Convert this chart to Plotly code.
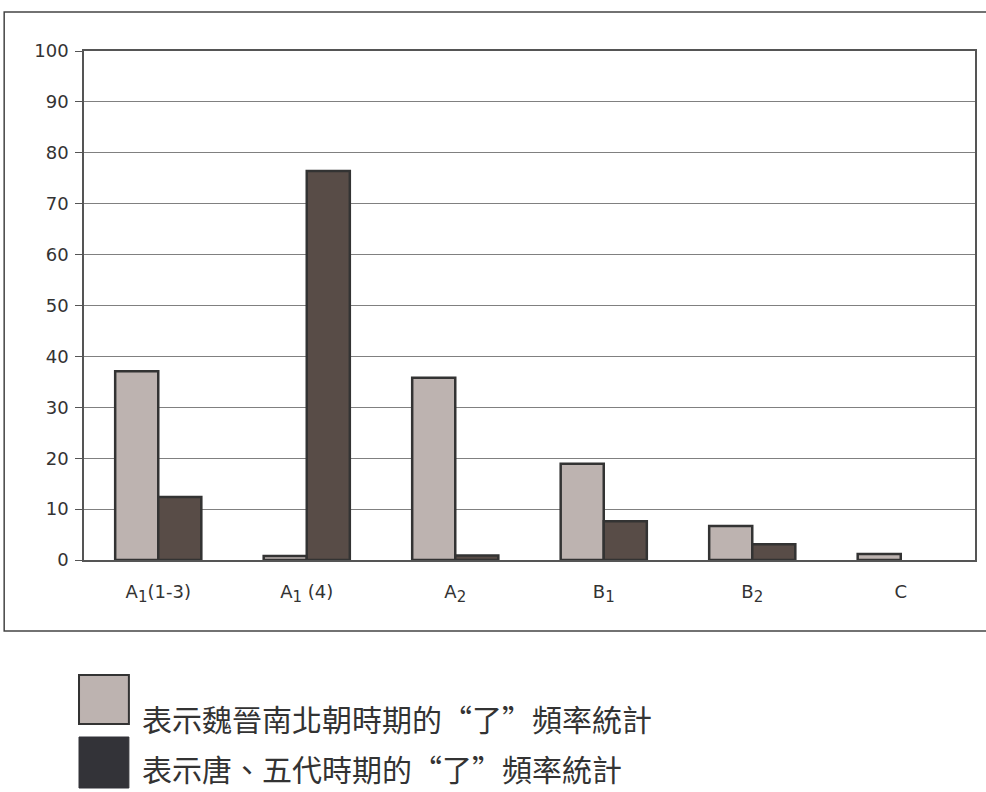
import plotly.graph_objects as go

# Categories and frequency values (percent) for each period
categories = ["A1(1-3)", "A1 (4)", "A2", "B1", "B2", "C"]
SUB = "<sub><span style='font-size:15px'>{}</span></sub>"
tick_labels = ["A" + SUB.format(1) + "(1-3)", "A" + SUB.format(1) + " (4)",
               "A" + SUB.format(2), "B" + SUB.format(1), "B" + SUB.format(2), "C"]
wei_jin_values = [37.1, 0.8, 35.8, 18.9, 6.7, 1.2]
tang_wudai_values = [12.4, 76.4, 0.9, 7.6, 3.1, 0]
y_ticks = list(range(0, 101, 10))

legend_labels = ["表示魏晉南北朝時期的“了”頻率統計", "表示唐、五代時期的“了”頻率統計"]

LIGHT = "#BDB3B0"
DARK = "#584C47"
OUTLINE = "#333333"

W, H = 986, 792
L, R, T, B = 84, 9, 51, 232
PW, PH = W - L - R, H - T - B


def px_x(x):
    return (x - L) / PW


def px_y(y):
    return (H - B - y) / PH


def outline_widths(values):
    # zero-height bars get no outline so they stay invisible
    return [2.5 if v else 0 for v in values]


fig = go.Figure()
fig.add_bar(x=categories, y=wei_jin_values, name=legend_labels[0],
            marker=dict(color=LIGHT,
                        line=dict(color=OUTLINE, width=outline_widths(wei_jin_values))))
fig.add_bar(x=categories, y=tang_wudai_values, name=legend_labels[1],
            marker=dict(color=DARK,
                        line=dict(color=OUTLINE, width=outline_widths(tang_wudai_values))))

shapes = [
    # outer chart frame
    dict(type="rect", xref="paper", yref="paper",
         x0=px_x(4), x1=px_x(992), y0=px_y(631), y1=px_y(12),
         line=dict(color="#444444", width=1.5), layer="below"),
    # legend swatches
    dict(type="rect", xref="paper", yref="paper",
         x0=px_x(79), x1=px_x(129), y0=px_y(724), y1=px_y(675),
         fillcolor=LIGHT, line=dict(color=OUTLINE, width=2)),
    dict(type="rect", xref="paper", yref="paper",
         x0=px_x(79), x1=px_x(129), y0=px_y(788), y1=px_y(737),
         fillcolor="#333338", line=dict(color="#333338", width=1)),
]

annotations = [
    dict(xref="paper", yref="paper", x=px_x(140), y=px_y(y), xanchor="left",
         yanchor="middle", text=t, showarrow=False,
         font=dict(family="Noto Sans CJK TC", size=30, color="#333333"))
    for t, y in zip(legend_labels, [718, 768])
]

fig.update_layout(
    width=W, height=H,
    margin=dict(l=L, r=R, t=T, b=B),
    paper_bgcolor="white", plot_bgcolor="white",
    barmode="group", bargap=0.42, bargroupgap=0,
    showlegend=False,
    shapes=shapes, annotations=annotations,
    font=dict(family="DejaVu Sans", size=18, color="#333333"),
)
fig.update_xaxes(
    type="category", tickvals=categories, ticktext=tick_labels,
    showline=True, linecolor="#555555", linewidth=1.5, mirror=True,
    showgrid=False, ticks="", ticklabelstandoff=15,
    tickfont=dict(family="DejaVu Sans", size=18, color="#333333"),
)
fig.update_yaxes(
    range=[0, 100], tickvals=y_ticks,
    showline=True, linecolor="#555555", linewidth=1.5, mirror=True,
    showgrid=True, gridcolor="#808080", gridwidth=1,
    ticks="outside", ticklen=7, tickcolor="#555555",
    ticklabelstandoff=3,
    tickfont=dict(family="DejaVu Sans", size=18, color="#333333"),
    zeroline=False,
)

fig.write_html("out.html")
